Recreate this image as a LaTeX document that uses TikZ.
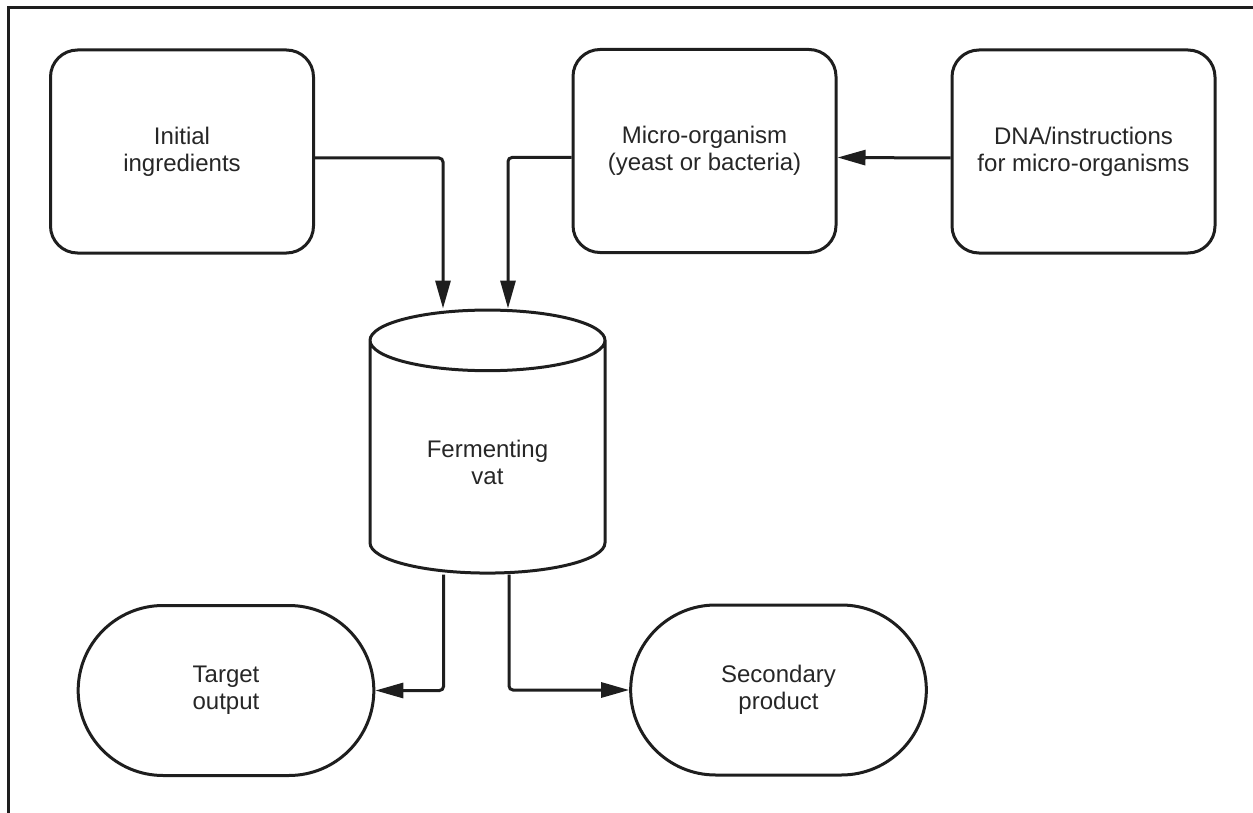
\documentclass[tikz,border=0pt]{standalone}
\usepackage{fontspec}
\setmainfont{Liberation Sans}
\usetikzlibrary{arrows.meta,shapes.geometric,shapes.misc}
\definecolor{ink}{HTML}{1E1E1E}
\definecolor{txt}{HTML}{262626}
\begin{document}
\begin{tikzpicture}[x=0.5pt,y=-0.5pt,
	lbl/.style={align=center,text=txt,font=\fontsize{12}{13.5}\selectfont},
	box/.style={lbl,draw=ink,line width=1.5pt,rounded corners=13.5pt,minimum width=131.5pt,minimum height=101.5pt},
	pill/.style={lbl,draw=ink,line width=1.5pt,rounded rectangle,minimum width=154.5pt,minimum height=85pt},
	vatshape/.style={lbl,draw=ink,line width=1.5pt,cylinder,shape border rotate=90,aspect=0.45,minimum width=117.5pt,minimum height=131.5pt},
	link/.style={draw=ink,line width=1.5pt,rounded corners=2pt,-{Triangle[length=14pt,width=7.5pt]}}]
		\clip (0,0) rectangle (1253,813);
		\draw[ink,line width=1.5pt] (8,840) -- (8,8) -- (1280,8);
		
		\node[box] (init) at (182,151.5) {Initial\\ingredients};
		\node[box] (micro) at (704.5,151) {Micro-organism\\(yeast or bacteria)};
		\node[box] (dna) at (1083.5,151.5) {DNA/instructions\\for micro-organisms};
		
		\node[vatshape] (vat) at (487.5,462.5) {Fermenting\\vat};
		
		\node[pill] (target) at (226,690.5) {Target\\output};
		\node[pill] (second) at (778.5,690) {Secondary\\product};
		
		\draw[link] ([yshift=-3.25pt]init.east) -| ([xshift=-22.25pt]vat.north);
		\draw[link] ([yshift=-3.25pt]micro.west) -| ([xshift=10.25pt]vat.north);
		\draw[link] ([yshift=-3.25pt]dna.west) to ([yshift=-3.25pt]micro.east);
		\draw[link] ([xshift=-22pt]vat.south) |- (target.east);
		\draw[link] ([xshift=10.75pt]vat.south) |- (second.west);
\end{tikzpicture}
\end{document}
